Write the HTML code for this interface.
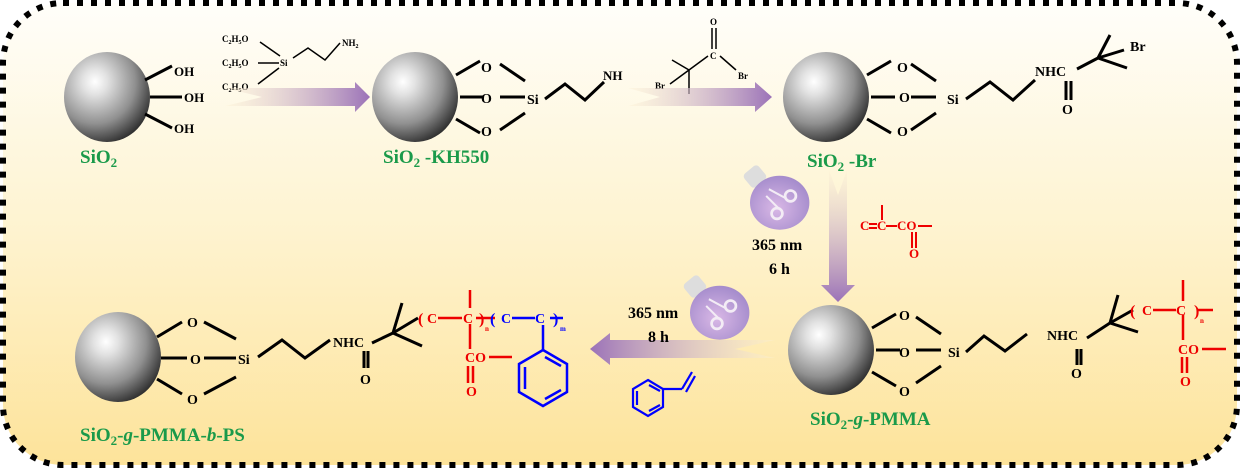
<!DOCTYPE html>
<html><head><meta charset="utf-8"><style>
html,body{margin:0;padding:0;background:#fff}
svg{display:block}
text{font-family:"Liberation Serif",serif;font-weight:bold}
</style></head><body>
<svg width="1240" height="468" viewBox="0 0 1240 468" xmlns="http://www.w3.org/2000/svg">
<defs>
<linearGradient id="bg" x1="0" y1="0" x2="0" y2="1">
<stop offset="0" stop-color="#fffefa"/><stop offset="0.5" stop-color="#fef3cf"/><stop offset="1" stop-color="#fde39a"/>
</linearGradient>
<radialGradient id="sph" cx="0.36" cy="0.33" r="0.72">
<stop offset="0" stop-color="#ffffff"/><stop offset="0.2" stop-color="#e2e2e2"/><stop offset="0.65" stop-color="#909090"/><stop offset="1" stop-color="#2e2e2e"/>
</radialGradient>
<linearGradient id="arR" x1="0" y1="0" x2="1" y2="0">
<stop offset="0" stop-color="#fdf2d4" stop-opacity="0.4"/><stop offset="1" stop-color="#9b72b8"/>
</linearGradient>
<linearGradient id="arL" x1="1" y1="0" x2="0" y2="0">
<stop offset="0" stop-color="#fdf2d4" stop-opacity="0.4"/><stop offset="1" stop-color="#9b72b8"/>
</linearGradient>
<linearGradient id="arD" x1="0" y1="0" x2="0" y2="1">
<stop offset="0" stop-color="#fdf2d4" stop-opacity="0.4"/><stop offset="1" stop-color="#9b72b8"/>
</linearGradient>
<radialGradient id="bulb" cx="0.45" cy="0.6" r="0.6">
<stop offset="0" stop-color="#d9b8e6"/><stop offset="1" stop-color="#a58ccc"/>
</radialGradient>
<g id="sphere"><ellipse cx="0" cy="0" rx="43" ry="45" fill="url(#sph)"/></g>
<g id="bulbg" transform="scale(1.35)">
<rect x="-23" y="-24" width="14" height="13" rx="3" fill="#ddd" transform="rotate(-40 -16 -17)"/>
<ellipse cx="2" cy="2" rx="22" ry="20" fill="url(#bulb)"/>
<circle cx="10" cy="-3" r="4" fill="none" stroke="#f3ecf5" stroke-width="2"/>
<circle cx="0" cy="10" r="4" fill="none" stroke="#f3ecf5" stroke-width="2"/>
<line x1="-6" y1="-8" x2="7" y2="-1" stroke="#f3ecf5" stroke-width="1.5"/>
<line x1="-8" y1="-3" x2="1" y2="6" stroke="#f3ecf5" stroke-width="1.5"/>
</g>
<g id="anchor" stroke="#000" stroke-width="3" fill="none">
<line x1="41" y1="-22" x2="65" y2="-36"/><line x1="45" y1="0" x2="69" y2="0"/><line x1="41" y1="22" x2="65" y2="36"/>
<line x1="85" y1="-33" x2="110" y2="-16"/><line x1="85" y1="0" x2="110" y2="0"/><line x1="85" y1="33" x2="110" y2="16"/>
</g>
</defs>
<rect x="3" y="3" width="1234" height="462" rx="60" fill="url(#bg)" stroke="#000" stroke-width="6" stroke-dasharray="6 8"/>

<use href="#sphere" x="107" y="97"/>
<g stroke="#000" stroke-width="3"><line x1="145" y1="80" x2="172" y2="66"/><line x1="150" y1="97" x2="182" y2="97"/><line x1="145" y1="114" x2="172" y2="128"/></g>
<text x="174" y="76" font-size="13">OH</text><text x="184" y="102" font-size="13">OH</text><text x="174" y="133" font-size="13">OH</text>
<text x="80" y="163" font-size="19" fill="#1a9a4a">SiO<tspan font-size="13" dy="4">2</tspan></text>

<g font-size="9"><text x="222" y="42">C<tspan font-size="6" dy="2">2</tspan><tspan dy="-2">H</tspan><tspan font-size="6" dy="2">5</tspan><tspan dy="-2">O</tspan></text>
<text x="222" y="66">C<tspan font-size="6" dy="2">2</tspan><tspan dy="-2">H</tspan><tspan font-size="6" dy="2">5</tspan><tspan dy="-2">O</tspan></text>
<text x="222" y="90">C<tspan font-size="6" dy="2">2</tspan><tspan dy="-2">H</tspan><tspan font-size="6" dy="2">5</tspan><tspan dy="-2">O</tspan></text>
<text x="280" y="66">Si</text><text x="342" y="46">NH<tspan font-size="6" dy="2">2</tspan></text></g>
<g stroke="#000" stroke-width="1.5" fill="none"><line x1="260" y1="42" x2="280" y2="56"/><line x1="258" y1="63" x2="279" y2="63"/><line x1="258" y1="84" x2="279" y2="68"/>
<polyline points="293,58 308,48 325,60 340,43"/></g>
<path d="M225,88 L355,88 L355,82 L370,97 L355,112 L355,106 L225,106 L262,97 Z" fill="url(#arR)"/>

<use href="#sphere" x="415" y="97"/>
<g transform="translate(415,97)"><use href="#anchor"/></g>
<g font-size="14"><text x="481" y="72">O</text><text x="481" y="103">O</text><text x="481" y="136">O</text><text x="527" y="104">Si</text></g>
<g stroke="#000" stroke-width="3" fill="none"><polyline points="545,99 565,84 585,100 604,82"/></g>
<text x="603" y="80" font-size="13">NH</text>
<text x="383" y="163" font-size="19" fill="#1a9a4a">SiO<tspan font-size="13" dy="4">2</tspan><tspan dy="-4"> -KH550</tspan></text>

<g font-size="9"><text x="710" y="25">O</text><text x="710" y="59">C</text><text x="738" y="79">Br</text><text x="655" y="89">Br</text></g>
<g stroke="#000" stroke-width="1.5" fill="none"><line x1="712" y1="28" x2="712" y2="49"/><line x1="716" y1="28" x2="716" y2="49"/>
<line x1="708" y1="56" x2="689" y2="70"/><line x1="720" y1="56" x2="736" y2="70"/><line x1="672" y1="60" x2="689" y2="70"/><line x1="689" y1="70" x2="689" y2="94"/><line x1="689" y1="70" x2="670" y2="84"/></g>
<path d="M628,88 L755,88 L755,82 L772,97 L755,112 L755,106 L628,106 L660,97 Z" fill="url(#arR)"/>

<use href="#sphere" x="826" y="97"/>
<g transform="translate(826,97)"><use href="#anchor"/></g>
<g font-size="14"><text x="897" y="72">O</text><text x="899" y="102">O</text><text x="897" y="136">O</text><text x="947" y="104">Si</text></g>
<g stroke="#000" stroke-width="3" fill="none"><polyline points="966,99 990,82 1013,100 1035,80"/>
<line x1="1066" y1="81" x2="1066" y2="100"/><line x1="1071" y1="81" x2="1071" y2="100"/>
<line x1="1077" y1="69" x2="1098" y2="58"/><line x1="1098" y1="58" x2="1110" y2="35"/><line x1="1098" y1="58" x2="1127" y2="68"/><line x1="1098" y1="58" x2="1124" y2="50"/></g>
<g font-size="14"><text x="1035" y="76">NHC</text><text x="1062" y="114">O</text><text x="1130" y="51">Br</text></g>
<text x="807" y="167" font-size="19" fill="#1a9a4a">SiO<tspan font-size="13" dy="4">2</tspan><tspan dy="-4"> -Br</tspan></text>

<path d="M829,170 L838,195 L847,170 L847,285 L855,285 L838,302 L821,285 L829,285 Z" fill="url(#arD)"/>
<use href="#bulbg" x="777" y="200"/>
<text x="752" y="250" font-size="16">365 nm</text><text x="769" y="274" font-size="16">6 h</text>
<g fill="#e00" font-size="13"><text x="860" y="230">C</text><text x="877" y="230">C</text><text x="897" y="230">CO</text><text x="909" y="258">O</text></g>
<g stroke="#e00" stroke-width="2" fill="none"><line x1="869" y1="224" x2="877" y2="224"/><line x1="869" y1="228" x2="877" y2="228"/>
<line x1="886" y1="226" x2="897" y2="226"/><line x1="882" y1="205" x2="882" y2="220"/><line x1="918" y1="226" x2="932" y2="226"/>
<line x1="912" y1="232" x2="912" y2="248"/><line x1="916" y1="232" x2="916" y2="248"/></g>

<use href="#sphere" x="831" y="350"/>
<g transform="translate(831,350)"><use href="#anchor"/></g>
<g font-size="14"><text x="899" y="320">O</text><text x="899" y="357">O</text><text x="899" y="396">O</text><text x="948" y="357">Si</text></g>
<g stroke="#000" stroke-width="3" fill="none"><polyline points="966,352 984,336 1005,351 1027,334"/>
<line x1="1077" y1="349" x2="1077" y2="365"/><line x1="1081" y1="349" x2="1081" y2="365"/>
<line x1="1087" y1="338" x2="1110" y2="323"/><line x1="1110" y1="323" x2="1118" y2="295"/><line x1="1110" y1="323" x2="1138" y2="332"/><line x1="1110" y1="323" x2="1133" y2="310"/></g>
<g font-size="14"><text x="1047" y="340">NHC</text><text x="1071" y="378">O</text></g>
<g fill="#e00"><text x="1130" y="316" font-size="16" font-weight="normal">(</text><text x="1142" y="315" font-size="14">C</text><text x="1176" y="315" font-size="14">C</text><text x="1194" y="316" font-size="16" font-weight="normal">)</text><text x="1200" y="323" font-size="7">n</text>
<text x="1178" y="354" font-size="14">CO</text><text x="1180" y="386" font-size="14">O</text></g>
<g stroke="#e00" stroke-width="2.5" fill="none"><line x1="1153" y1="310" x2="1176" y2="310"/><line x1="1183" y1="280" x2="1183" y2="301"/><line x1="1183" y1="315" x2="1183" y2="340"/><line x1="1198" y1="310" x2="1213" y2="310"/>
<line x1="1202" y1="349" x2="1226" y2="349"/><line x1="1182" y1="357" x2="1182" y2="373"/><line x1="1187" y1="357" x2="1187" y2="373"/></g>
<text x="810" y="425" font-size="19" fill="#1a9a4a">SiO<tspan font-size="13" dy="4">2</tspan><tspan dy="-4">-<tspan font-style="italic">g</tspan>-PMMA</tspan></text>

<path d="M775,340 L610,340 L610,333 L590,349 L610,365 L610,358 L775,358 L735,349 Z" fill="url(#arL)"/>
<text x="628" y="318" font-size="16">365 nm</text><text x="648" y="342" font-size="16">8 h</text>
<use href="#bulbg" x="717" y="310"/>
<g stroke="#00f" stroke-width="2.2" fill="none">
<polygon points="648,380 663,389 663,407 648,416 633,407 633,389"/>
<line x1="649" y1="385" x2="660" y2="391"/><line x1="637" y1="391" x2="637" y2="405"/><line x1="649" y1="411" x2="660" y2="405"/>
<line x1="663" y1="389" x2="682" y2="389"/><line x1="682" y1="389" x2="692" y2="372"/><line x1="686" y1="392" x2="695" y2="376"/></g>

<use href="#sphere" x="118" y="357"/>
<g stroke="#000" stroke-width="3" fill="none">
<line x1="157" y1="337" x2="182" y2="322"/><line x1="161" y1="358" x2="187" y2="358"/><line x1="157" y1="379" x2="182" y2="394"/>
<line x1="204" y1="322" x2="236" y2="339"/><line x1="204" y1="358" x2="236" y2="358"/><line x1="204" y1="394" x2="236" y2="377"/>
</g>
<g font-size="14"><text x="187" y="327">O</text><text x="190" y="364">O</text><text x="187" y="404">O</text><text x="238" y="364">Si</text></g>
<g stroke="#000" stroke-width="3" fill="none"><polyline points="258,357 282,340 305,358 330,340"/>
<line x1="364" y1="351" x2="364" y2="368"/><line x1="368" y1="351" x2="368" y2="368"/>
<line x1="372" y1="343" x2="393" y2="333"/><line x1="393" y1="333" x2="402" y2="303"/><line x1="393" y1="333" x2="422" y2="346"/><line x1="393" y1="333" x2="418" y2="318"/></g>
<g font-size="14"><text x="333" y="347">NHC</text><text x="360" y="384">O</text></g>
<g fill="#e00"><text x="418" y="324" font-size="16" font-weight="normal">(</text><text x="427" y="323" font-size="14">C</text><text x="463" y="323" font-size="14">C</text><text x="479" y="324" font-size="16" font-weight="normal">)</text><text x="485" y="331" font-size="7">n</text>
<text x="465" y="362" font-size="14">CO</text><text x="466" y="396" font-size="14">O</text></g>
<g stroke="#e00" stroke-width="2.5" fill="none"><line x1="438" y1="318" x2="462" y2="318"/><line x1="470" y1="290" x2="470" y2="308"/><line x1="470" y1="324" x2="470" y2="349"/><line x1="476" y1="318" x2="495" y2="318"/>
<line x1="489" y1="357" x2="512" y2="357"/><line x1="468" y1="366" x2="468" y2="383"/><line x1="473" y1="366" x2="473" y2="383"/></g>
<g fill="#00f"><text x="490" y="324" font-size="16" font-weight="normal">(</text><text x="501" y="323" font-size="14">C</text><text x="535" y="323" font-size="14">C</text><text x="553" y="324" font-size="16" font-weight="normal">)</text><text x="560" y="331" font-size="7">m</text></g>
<g stroke="#00f" stroke-width="2.5" fill="none"><line x1="512" y1="318" x2="535" y2="318"/><line x1="550" y1="318" x2="563" y2="318"/><line x1="543" y1="325" x2="543" y2="350"/>
<polygon points="543,350 567,364 567,392 543,406 519,392 519,364"/>
<line x1="545" y1="357" x2="561" y2="366"/><line x1="525" y1="367" x2="525" y2="389"/><line x1="545" y1="399" x2="561" y2="390"/></g>
<text x="80" y="441" font-size="19" fill="#1a9a4a">SiO<tspan font-size="13" dy="4">2</tspan><tspan dy="-4">-<tspan font-style="italic">g</tspan>-PMMA-<tspan font-style="italic">b</tspan>-PS</tspan></text>
</svg>
</body></html>
